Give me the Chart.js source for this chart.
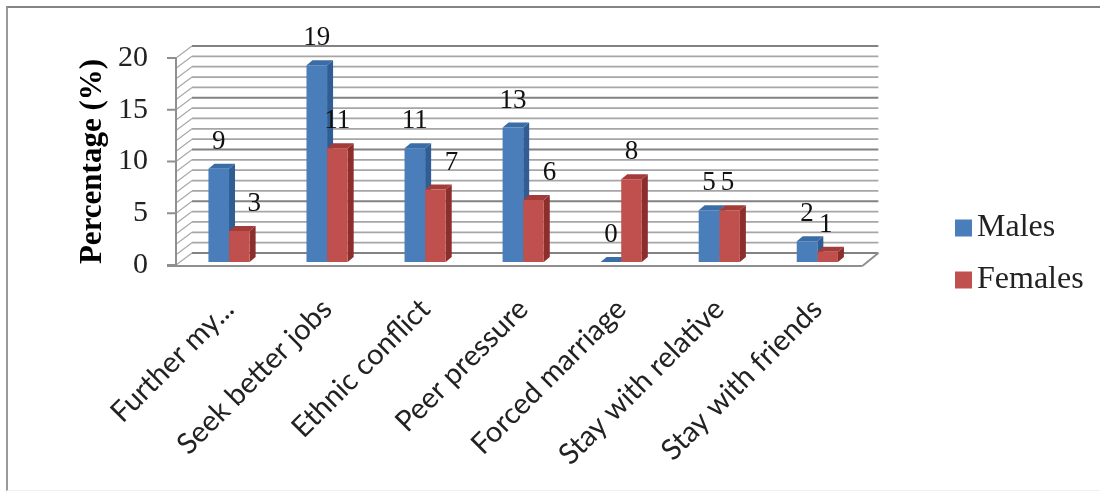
<!DOCTYPE html>
<html>
<head>
<meta charset="utf-8">
<title>Reasons for migration by gender</title>
<script src="https://cdn.jsdelivr.net/npm/chart.js@4"></script>
<style>
  html, body { margin: 0; padding: 0; background: #fff; }
  #wrap { position: relative; width: 1100px; height: 492px; overflow: hidden; }
  #frame { position: absolute; left: 6px; top: 6px; width: 1100px; height: 485px; border-left: 2px solid #9a9a9a; border-top: 2px solid #848484; border-bottom: 1px solid #efefef; box-sizing: border-box; }
  canvas { position: absolute; left: 0; top: 0; }
</style>
</head>
<body>
<div id="wrap">
  <div id="frame"></div>
  <canvas id="chart" width="1100" height="492"></canvas>
</div>
<script>
const categories = ['Further my...', 'Seek better jobs', 'Ethnic conflict', 'Peer pressure', 'Forced marriage', 'Stay with relative', 'Stay with friends'];
const males = [9, 19, 11, 13, 0, 5, 2];
const females = [3, 11, 7, 6, 8, 5, 1];
const yTicks = [0, 5, 10, 15, 20];

// sideways shift of a few value labels so they clear the bar beside them
const femaleLabelShift = [15, 0, 16, 16, 0, -2, -2];

const SERIF = '"Liberation Serif", serif';
const WALL = { dx: 16, dy: 12 };
const BAR_DEPTH = { dx: 6, dy: 5 };
const AXIS_SHIFT = 4;
const SWATCH = 17;
const shades = [
  { side: '#2f5d94', top: '#3a6ca6' },
  { side: '#8c2e2c', top: '#a33b38' }
];

function line(ctx, x1, y1, x2, y2) {
  ctx.beginPath();
  ctx.moveTo(x1, y1);
  ctx.lineTo(x2, y2);
  ctx.stroke();
}

// back wall, side wall and floor behind the bars
const wallPlugin = {
  id: 'wall',
  beforeDatasetsDraw(chart) {
    const { ctx, chartArea, scales } = chart;
    const left = chartArea.left - AXIS_SHIFT;
    const right = chartArea.right - 4;
    const y = scales.y;
    ctx.save();
    for (let v = 0; v <= 20; v++) {
      const py = y.getPixelForValue(v);
      const major = v % 5 === 0;
      ctx.strokeStyle = major ? '#828282' : '#a6a6a6';
      ctx.lineWidth = major ? 2 : 1.8;
      line(ctx, left + WALL.dx, py - WALL.dy, right + WALL.dx, py - WALL.dy);
      ctx.strokeStyle = '#a8a8a8';
      ctx.lineWidth = 1.2;
      line(ctx, left, py, left + WALL.dx, py - WALL.dy);
    }
    // front edges of the floor and the axis with its tick marks
    const zero = y.getPixelForValue(0);
    ctx.strokeStyle = '#8f8f8f';
    ctx.lineWidth = 2;
    line(ctx, left, y.getPixelForValue(20), left, zero);
    line(ctx, left - 9, zero + 1, right, zero + 1);
    line(ctx, right, zero + 1, right + WALL.dx, zero - WALL.dy);
    yTicks.forEach(v => {
      const py = y.getPixelForValue(v);
      line(ctx, left - 9, py, left, py);
    });
    ctx.restore();
  }
};

// side and top faces of each bar, drawn before the library paints the fronts
const barDepthPlugin = {
  id: 'barDepth',
  beforeDatasetsDraw(chart) {
    const { ctx } = chart;
    const { dx, dy } = BAR_DEPTH;
    ctx.save();
    categories.forEach((_, i) => {
      chart.data.datasets.forEach((ds, d) => {
        const bar = chart.getDatasetMeta(d).data[i];
        const half = bar.width / 2;
        const l = bar.x - half, r = bar.x + half;
        ctx.fillStyle = shades[d].side;
        ctx.beginPath();
        ctx.moveTo(r, bar.y);
        ctx.lineTo(r + dx, bar.y - dy);
        ctx.lineTo(r + dx, bar.base - dy);
        ctx.lineTo(r, bar.base);
        ctx.closePath();
        ctx.fill();
        ctx.fillStyle = shades[d].top;
        ctx.beginPath();
        ctx.moveTo(l, bar.y);
        ctx.lineTo(l + dx, bar.y - dy);
        ctx.lineTo(r + dx, bar.y - dy);
        ctx.lineTo(r, bar.y);
        ctx.closePath();
        ctx.fill();
      });
    });
    ctx.restore();
  }
};

const valueLabelPlugin = {
  id: 'valueLabels',
  afterDatasetsDraw(chart) {
    const { ctx } = chart;
    ctx.save();
    ctx.font = '27px ' + SERIF;
    ctx.fillStyle = '#111';
    ctx.textAlign = 'center';
    ctx.textBaseline = 'middle';
    chart.data.datasets.forEach((ds, d) => {
      chart.getDatasetMeta(d).data.forEach((bar, i) => {
        const shift = d === 1 ? femaleLabelShift[i] : 0;
        ctx.fillText(ds.data[i], bar.x + shift, bar.y - 27);
      });
    });
    ctx.restore();
  }
};

// moves the legend into place and paints larger swatches close to the text
const legendPlacePlugin = {
  id: 'legendPlace',
  afterLayout(chart) {
    const legend = chart.legend;
    const moveX = 935 - legend.left;
    legend.left += moveX;
    legend.right += moveX;
    legend.top -= 21;
    legend.bottom -= 21;
  },
  afterDraw(chart) {
    const { ctx, legend } = chart;
    const labels = legend.options.labels;
    const x = legend.left + labels.padding;
    const mid = (legend.top + legend.bottom) / 2;
    const rowHeight = labels.font.size + labels.padding;
    chart.data.datasets.forEach((ds, i) => {
      ctx.fillStyle = ds.backgroundColor;
      ctx.fillRect(x, mid + (i - 0.5) * rowHeight - SWATCH / 2, SWATCH, SWATCH);
    });
  }
};

new Chart(document.getElementById('chart'), {
  type: 'bar',
  data: {
    labels: categories,
    datasets: [
      { label: 'Males', data: males, backgroundColor: '#4a7ebb', yAxisID: 'yBars', categoryPercentage: 0.42, barPercentage: 1 },
      { label: 'Females', data: females, backgroundColor: '#c0504d', yAxisID: 'yBars', categoryPercentage: 0.42, barPercentage: 1 }
    ]
  },
  options: {
    responsive: false,
    animation: false,
    layout: { padding: { left: 74, top: 58, right: 0, bottom: 0 } },
    plugins: {
      tooltip: { enabled: false },
      legend: {
        position: 'right',
        labels: {
          boxWidth: 6,
          boxHeight: 6,
          padding: 20,
          color: '#222',
          font: { family: SERIF, size: 32 }
        }
      }
    },
    scales: {
      x: {
        grid: { display: false },
        border: { display: false },
        afterFit(scale) { scale.height = 227; },
        ticks: {
          minRotation: 45,
          maxRotation: 45,
          autoSkip: false,
          padding: 19,
          color: '#222',
          font: { family: 'Lato, sans-serif', size: 29 }
        }
      },
      y: {
        position: 'left',
        min: 0,
        max: 20,
        afterFit(scale) { scale.width = 106; },
        grid: { display: false },
        border: { display: false },
        title: {
          display: true,
          text: 'Percentage (%)',
          color: '#000',
          padding: 0,
          font: { family: SERIF, size: 31, weight: 'bold' }
        },
        afterBuildTicks(scale) { scale.ticks = yTicks.map(v => ({ value: v })); },
        ticks: {
          padding: 24,
          color: '#222',
          font: { family: SERIF, size: 30 }
        }
      },
      // bars stand slightly behind the front edge of the floor
      yBars: {
        position: 'right',
        min: -0.29,
        max: 19.71,
        afterFit(scale) { scale.width = 75; },
        grid: { display: false },
        border: { display: false },
        ticks: { display: false }
      }
    }
  },
  plugins: [wallPlugin, barDepthPlugin, valueLabelPlugin, legendPlacePlugin]
});
</script>
</body>
</html>
